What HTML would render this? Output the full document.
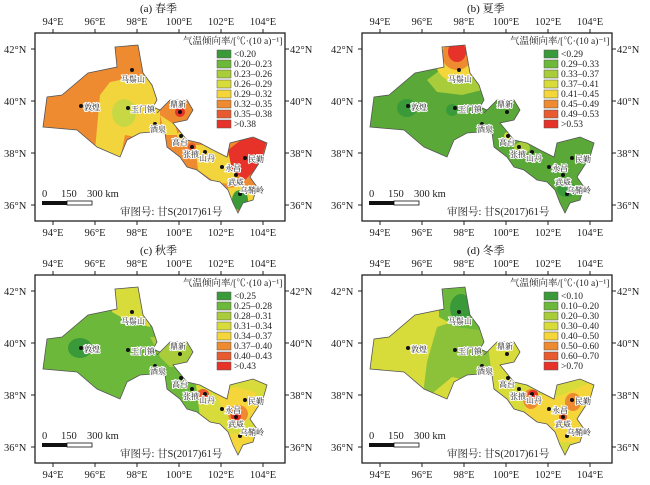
<!DOCTYPE html>
<html><head><meta charset="utf-8"><style>
body{margin:0;background:#fff}
svg{display:block;font-family:"Liberation Serif","Noto Serif CJK SC",serif}
.t{font-size:10.5px;fill:#222}
.lg{font-size:9.5px;fill:#222}
.st{font-size:8px;fill:#222;stroke:#fff;stroke-width:2;paint-order:stroke}
.hd{font-size:11px;fill:#111}
</style></head><body>
<svg width="650" height="485" viewBox="0 0 650 485">
<defs>
<path id="gs" d="M43,127 L47,97 L62,95 L88,73 L117,67 L115,47 L138,45 L143,73 L152,85 L157,100 L153,107 L160,110 L157,113 L170,100 L187,100 L193,110 L187,120 L173,123 L187,140 L200,143 L213,150 L227,157 L230,143 L253,137 L267,143 L263,157 L250,177 L257,187 L253,200 L243,203 L238,213 L233,203 L228,190 L220,182 L210,180 L197,170 L187,167 L180,157 L167,147 L165,133 L153,132 L140,133 L127,140 L120,157 L97,147 L77,130 Z"/>
<clipPath id="cg"><use href="#gs"/></clipPath>
<g id="frame">
<rect x="35" y="33" width="250" height="188" fill="none" stroke="#222" stroke-width="1.3"/>
<g stroke="#222" stroke-width="1">
<path d="M53,33v-4M95,33v-4M137,33v-4M179,33v-4M221,33v-4M263,33v-4M53,221v4M95,221v4M137,221v4M179,221v4M221,221v4M263,221v4M35,49h-4M35,101h-4M35,153h-4M35,205h-4M285,49h4M285,101h4M285,153h4M285,205h4"/>
</g>
<g class="t" text-anchor="middle">
<text x="53" y="25">94°E</text><text x="95" y="25">96°E</text><text x="137" y="25">98°E</text><text x="179" y="25">100°E</text><text x="221" y="25">102°E</text><text x="263" y="25">104°E</text>
<text x="53" y="236">94°E</text><text x="95" y="236">96°E</text><text x="137" y="236">98°E</text><text x="179" y="236">100°E</text><text x="221" y="236">102°E</text><text x="263" y="236">104°E</text>
</g>
<g class="t">
<text x="4" y="53">42°N</text><text x="4" y="105">40°N</text><text x="4" y="157">38°N</text><text x="4" y="209">36°N</text>
<text x="290" y="53">42°N</text><text x="290" y="105">40°N</text><text x="290" y="157">38°N</text><text x="290" y="209">36°N</text>
</g>
<text class="t" x="42" y="197">0</text><text class="t" x="61" y="197">150</text><text class="t" x="87" y="197">300 km</text>
<rect x="42" y="201" width="25" height="4" fill="#111"/><rect x="67" y="201" width="25" height="4" fill="#fff" stroke="#111" stroke-width="0.8"/>
<text class="t" x="120" y="215">审图号: 甘S(2017)61号</text>
<g fill="#111"><circle cx="132" cy="70" r="2"/><circle cx="81" cy="106" r="2"/><circle cx="128" cy="108" r="2"/><circle cx="180" cy="112" r="2"/><circle cx="155" cy="124" r="2"/><circle cx="181" cy="136" r="2"/><circle cx="192" cy="147" r="2"/><circle cx="205" cy="152" r="2"/><circle cx="222" cy="167" r="2"/><circle cx="245" cy="158" r="2"/><circle cx="236" cy="175" r="2"/><circle cx="240" cy="194" r="2"/></g>
<g class="st"><text x="121" y="82">马鬃山</text><text x="84" y="110">敦煌</text><text x="131" y="112">玉门镇</text><text x="170" y="107">鼎新</text><text x="150" y="132">酒泉</text><text x="172" y="145">高台</text><text x="183" y="157">张掖</text><text x="199" y="161">山丹</text><text x="225" y="171">永昌</text><text x="248" y="162">民勤</text><text x="228" y="185">武威</text><text x="240" y="193">乌鞘岭</text></g>
</g>
</defs>

<!-- (a) -->
<g>
<text class="hd" x="140" y="12">(a) 春季</text>
<g clip-path="url(#cg)">
<rect x="30" y="30" width="260" height="200" fill="#ee8a30"/>
<path d="M95,150 L100,95 L110,82 L145,75 L160,95 L160,130 L150,140 L125,135 L120,160 Z" fill="#f2d43c"/>
<ellipse cx="124" cy="113" rx="12" ry="14" fill="#c8d845"/>
<path d="M160,115 L175,125 L178,135 L165,135 Z" fill="#f2d43c"/>
<path d="M195,145 L215,145 L240,165 L235,185 L215,182 L198,170 Z" fill="#f2d43c"/>
<circle cx="181" cy="136" r="4" fill="#f2d43c"/>
<path d="M228,150 L245,137 L267,140 L260,165 L245,180 L232,170 Z" fill="#e63228"/>
<circle cx="180" cy="112" r="5" fill="#e63228"/>
<circle cx="192" cy="147" r="4" fill="#e85a30"/>
<path d="M228,188 L250,185 L257,195 L250,210 L230,210 Z" fill="#f2d43c"/>
<ellipse cx="240" cy="200" rx="8" ry="10" fill="#3a9a3a"/>
</g>
<use href="#gs" fill="none" stroke="#555" stroke-width="0.8"/>
<use href="#frame"/>
<text class="lg" x="183" y="44">气温倾向率/[℃·(10 a)⁻¹]</text>
<g stroke="#555" stroke-width="0.5"><rect x="217" y="50" width="14" height="8" fill="#3a9a3a"/><rect x="217" y="60" width="14" height="8" fill="#6cb83a"/><rect x="217" y="70" width="14" height="8" fill="#a8cc3a"/><rect x="217" y="80" width="14" height="8" fill="#d8dc3a"/><rect x="217" y="90" width="14" height="8" fill="#f5d63a"/><rect x="217" y="100" width="14" height="8" fill="#ee8a30"/><rect x="217" y="110" width="14" height="8" fill="#e85a30"/><rect x="217" y="120" width="14" height="8" fill="#e63228"/></g>
<g class="lg"><text x="234" y="57">&lt;0.20</text><text x="234" y="67">0.20–0.23</text><text x="234" y="77">0.23–0.26</text><text x="234" y="87">0.26–0.29</text><text x="234" y="97">0.29–0.32</text><text x="234" y="107">0.32–0.35</text><text x="234" y="117">0.35–0.38</text><text x="234" y="127">&gt;0.38</text></g>
</g>

<!-- (b) -->
<g transform="translate(327,0)">
<text class="hd" x="140" y="12">(b) 夏季</text>
<g clip-path="url(#cg)">
<rect x="30" y="30" width="260" height="200" fill="#5aa838"/>
<path d="M100,80 L120,65 L150,70 L155,90 L135,95 L110,92 Z" fill="#a8cc3a"/>
<ellipse cx="130" cy="60" rx="22" ry="22" fill="#f5d63a"/>
<ellipse cx="130" cy="55" rx="15" ry="15" fill="#ee8a30"/>
<ellipse cx="130" cy="52" rx="9" ry="10" fill="#e63228"/>
<ellipse cx="80" cy="108" rx="10" ry="9" fill="#3a9a3a"/>
<ellipse cx="125" cy="110" rx="6" ry="6" fill="#3a9a3a"/>
<circle cx="181" cy="136" r="4" fill="#d8dc3a"/>
<ellipse cx="195" cy="148" rx="8" ry="6" fill="#a8cc3a"/>
<ellipse cx="240" cy="190" rx="10" ry="7" fill="#3a9a3a"/>
</g>
<use href="#gs" fill="none" stroke="#555" stroke-width="0.8"/>
<use href="#frame"/>
<text class="lg" x="183" y="44">气温倾向率/[℃·(10 a)⁻¹]</text>
<g stroke="#555" stroke-width="0.5"><rect x="217" y="50" width="14" height="8" fill="#3a9a3a"/><rect x="217" y="60" width="14" height="8" fill="#6cb83a"/><rect x="217" y="70" width="14" height="8" fill="#a8cc3a"/><rect x="217" y="80" width="14" height="8" fill="#d8dc3a"/><rect x="217" y="90" width="14" height="8" fill="#f5d63a"/><rect x="217" y="100" width="14" height="8" fill="#ee8a30"/><rect x="217" y="110" width="14" height="8" fill="#e85a30"/><rect x="217" y="120" width="14" height="8" fill="#e63228"/></g>
<g class="lg"><text x="234" y="57">&lt;0.29</text><text x="234" y="67">0.29–0.33</text><text x="234" y="77">0.33–0.37</text><text x="234" y="87">0.37–0.41</text><text x="234" y="97">0.41–0.45</text><text x="234" y="107">0.45–0.49</text><text x="234" y="117">0.49–0.53</text><text x="234" y="127">&gt;0.53</text></g>
</g>

<!-- (c) -->
<g transform="translate(0,242)">
<text class="hd" x="140" y="12">(c) 秋季</text>
<g clip-path="url(#cg)">
<rect x="30" y="30" width="260" height="200" fill="#6cb83a"/>
<path d="M110,40 L150,40 L150,85 L130,80 L112,70 Z" fill="#d8dc3a"/>
<ellipse cx="80" cy="106" rx="12" ry="10" fill="#3a9a3a"/>
<path d="M150,95 L195,95 L190,125 L170,125 L160,115 Z" fill="#a8cc3a"/>
<path d="M195,135 L230,140 L270,135 L270,215 L225,215 L200,175 Z" fill="#d8dc3a"/>
<path d="M215,150 L235,145 L255,150 L260,165 L245,180 L225,172 Z" fill="#f5d63a"/>
<ellipse cx="238" cy="172" rx="10" ry="9" fill="#ee8a30"/>
<ellipse cx="236" cy="174" rx="5" ry="5" fill="#e63228"/>
<ellipse cx="203" cy="152" rx="6" ry="5" fill="#e85a30"/>
<path d="M228,192 L255,190 L255,210 L230,210 Z" fill="#f5d63a"/>
</g>
<use href="#gs" fill="none" stroke="#555" stroke-width="0.8"/>
<use href="#frame"/>
<text class="lg" x="183" y="44">气温倾向率/[℃·(10 a)⁻¹]</text>
<g stroke="#555" stroke-width="0.5"><rect x="217" y="50" width="14" height="8" fill="#3a9a3a"/><rect x="217" y="60" width="14" height="8" fill="#6cb83a"/><rect x="217" y="70" width="14" height="8" fill="#a8cc3a"/><rect x="217" y="80" width="14" height="8" fill="#d8dc3a"/><rect x="217" y="90" width="14" height="8" fill="#f5d63a"/><rect x="217" y="100" width="14" height="8" fill="#ee8a30"/><rect x="217" y="110" width="14" height="8" fill="#e85a30"/><rect x="217" y="120" width="14" height="8" fill="#e63228"/></g>
<g class="lg"><text x="234" y="57">&lt;0.25</text><text x="234" y="67">0.25–0.28</text><text x="234" y="77">0.28–0.31</text><text x="234" y="87">0.31–0.34</text><text x="234" y="97">0.34–0.37</text><text x="234" y="107">0.37–0.40</text><text x="234" y="117">0.40–0.43</text><text x="234" y="127">&gt;0.43</text></g>
</g>

<!-- (d) -->
<g transform="translate(327,242)">
<text class="hd" x="140" y="12">(d) 冬季</text>
<g clip-path="url(#cg)">
<rect x="30" y="30" width="260" height="200" fill="#d8dc3a"/>
<path d="M95,160 L100,120 L110,85 L140,75 L160,95 L165,135 L150,140 L125,135 Z" fill="#8cc23a"/>
<path d="M112,40 L150,40 L152,88 L130,85 L112,75 Z" fill="#6cb83a"/>
<ellipse cx="134" cy="66" rx="11" ry="14" fill="#3a9a3a"/>
<path d="M195,150 L230,155 L265,140 L265,200 L230,200 L200,175 Z" fill="#f5d63a"/>
<ellipse cx="204" cy="157" rx="8" ry="10" fill="#ee8a30"/>
<ellipse cx="206" cy="152" rx="5" ry="4" fill="#e63228"/>
<ellipse cx="246" cy="160" rx="8" ry="9" fill="#ee8a30"/>
<ellipse cx="236" cy="175" rx="4" ry="4" fill="#e85a30"/>
</g>
<use href="#gs" fill="none" stroke="#555" stroke-width="0.8"/>
<use href="#frame"/>
<text class="lg" x="183" y="44">气温倾向率/[℃·(10 a)⁻¹]</text>
<g stroke="#555" stroke-width="0.5"><rect x="217" y="50" width="14" height="8" fill="#3a9a3a"/><rect x="217" y="60" width="14" height="8" fill="#6cb83a"/><rect x="217" y="70" width="14" height="8" fill="#a8cc3a"/><rect x="217" y="80" width="14" height="8" fill="#d8dc3a"/><rect x="217" y="90" width="14" height="8" fill="#f5d63a"/><rect x="217" y="100" width="14" height="8" fill="#ee8a30"/><rect x="217" y="110" width="14" height="8" fill="#e85a30"/><rect x="217" y="120" width="14" height="8" fill="#e63228"/></g>
<g class="lg"><text x="234" y="57">&lt;0.10</text><text x="234" y="67">0.10–0.20</text><text x="234" y="77">0.20–0.30</text><text x="234" y="87">0.30–0.40</text><text x="234" y="97">0.40–0.50</text><text x="234" y="107">0.50–0.60</text><text x="234" y="117">0.60–0.70</text><text x="234" y="127">&gt;0.70</text></g>
</g>
</svg>
</body></html>
